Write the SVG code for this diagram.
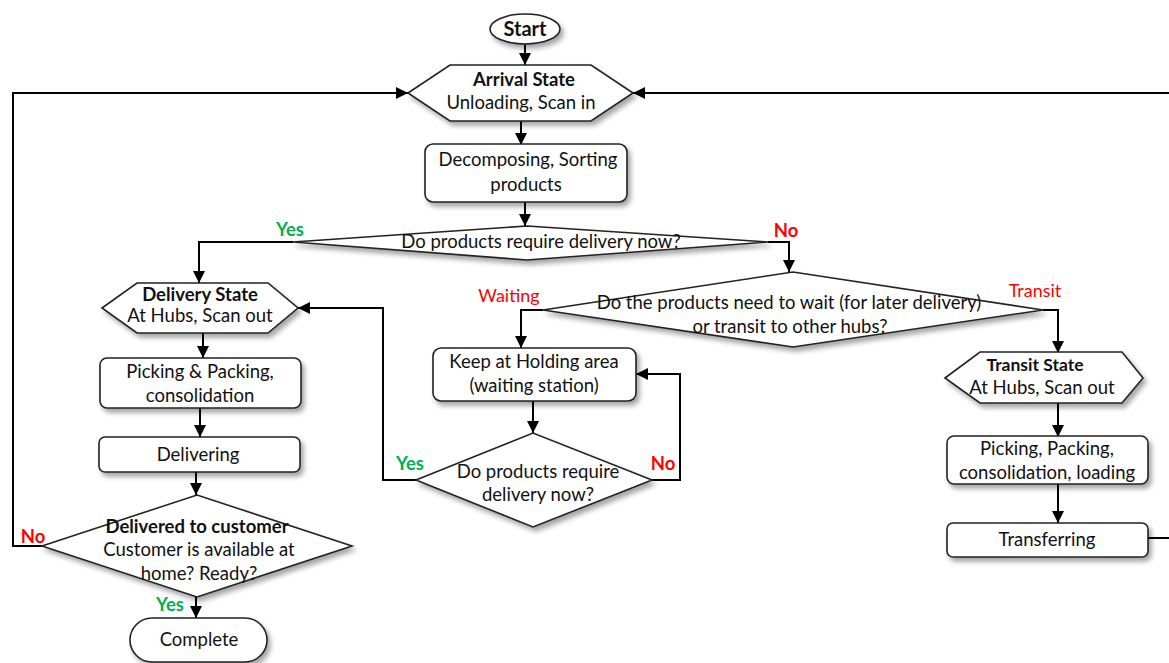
<svg xmlns="http://www.w3.org/2000/svg" width="1169" height="663" viewBox="0 0 1169 663">
<style>
.sh{fill:#fff;stroke:#222;stroke-width:1.6;filter:url(#ds)}
.t{font-family:Lato,"Liberation Sans",sans-serif;font-size:18.5px;fill:#111;text-anchor:middle}
.b{font-weight:bold;font-size:18.5px}
.c{fill:none;stroke:#000;stroke-width:2}
.yes{font-family:Lato,"Liberation Sans",sans-serif;font-size:18.5px;font-weight:bold;fill:#00b050;text-anchor:middle}
.no{font-family:Lato,"Liberation Sans",sans-serif;font-size:18.5px;font-weight:bold;fill:#ff0000;text-anchor:middle}
.lr{font-family:Lato,"Liberation Sans",sans-serif;font-size:18px;fill:#ff0000;text-anchor:middle}
</style>
<defs>
<filter id="ds" x="-10%" y="-20%" width="130%" height="160%">
<feDropShadow dx="3" dy="4" stdDeviation="2.5" flood-color="#000" flood-opacity="0.35"/>
</filter>
<marker id="ah" markerUnits="userSpaceOnUse" markerWidth="14" markerHeight="14" viewBox="0 0 14 14" refX="13" refY="7" orient="auto">
<path d="M1,1 L13,7 L1,13 Z" fill="#000"/>
</marker>
</defs>
<rect width="1169" height="663" fill="#fff"/>

<g id="connectors">
<path class="c" d="M525,44 V65" marker-end="url(#ah)"/>
<path class="c" d="M521,121 V145" marker-end="url(#ah)"/>
<path class="c" d="M525,202 V226" marker-end="url(#ah)"/>
<path class="c" d="M293,242 H199 V283" marker-end="url(#ah)"/>
<path class="c" d="M768,242 H789 V272" marker-end="url(#ah)"/>
<path class="c" d="M543,310 H521 V348" marker-end="url(#ah)"/>
<path class="c" d="M1043,310 H1058 V353" marker-end="url(#ah)"/>
<path class="c" d="M203,333 V358" marker-end="url(#ah)"/>
<path class="c" d="M200,408 V437" marker-end="url(#ah)"/>
<path class="c" d="M196,472 V495" marker-end="url(#ah)"/>
<path class="c" d="M196,597 V618" marker-end="url(#ah)"/>
<path class="c" d="M42,546 H13 V93 H408" marker-end="url(#ah)"/>
<path class="c" d="M533,401 V433" marker-end="url(#ah)"/>
<path class="c" d="M416,480 H383 V308 H298" marker-end="url(#ah)"/>
<path class="c" d="M652,480 H680 V374 H636" marker-end="url(#ah)"/>
<path class="c" d="M1058,403 V437" marker-end="url(#ah)"/>
<path class="c" d="M1058,484 V523" marker-end="url(#ah)"/>
<path class="c" d="M1148,538 H1185 V93 H633" marker-end="url(#ah)"/>
</g>

<g id="start">
<ellipse class="sh" cx="525" cy="29" rx="35" ry="15"/>
<text class="t b" x="525" y="36" style="font-size:20px">Start</text>
</g>

<g id="arrival">
<polygon class="sh" points="408,93 450,65 591,65 633,93 591,121 450,121"/>
<text class="t b" x="524" y="86">Arrival State</text>
<text class="t" x="521" y="109">Unloading, Scan in</text>
</g>

<g id="decomposing">
<rect class="sh" x="425" y="144" width="202" height="58" rx="8"/>
<text class="t" x="528" y="166">Decomposing, Sorting</text>
<text class="t" x="526" y="191">products</text>
</g>

<g id="decision1">
<polygon class="sh" points="293,242 527,226 768,242 527,260"/>
<text class="t" x="541" y="248">Do products require delivery now?</text>
<text class="yes" x="290" y="236">Yes</text>
<text class="no" x="786" y="237">No</text>
</g>

<g id="decision2">
<polygon class="sh" points="543,310 793,272 1043,310 793,347"/>
<text class="t" x="789" y="309">Do the products need to wait (for later delivery)</text>
<text class="t" x="790" y="333">or transit to other hubs?</text>
<text class="lr" x="509" y="302">Waiting</text>
<text class="lr" x="1035" y="297">Transit</text>
</g>

<g id="delivery-state">
<polygon class="sh" points="102,308 137,283 268,283 298,308 268,333 137,333"/>
<text class="t b" x="200" y="301">Delivery State</text>
<text class="t" x="200" y="322">At Hubs, Scan out</text>
</g>

<g id="picking-delivery">
<rect class="sh" x="100" y="358" width="201" height="50" rx="7"/>
<text class="t" x="200" y="378">Picking &amp; Packing,</text>
<text class="t" x="200" y="402">consolidation</text>
</g>

<g id="delivering">
<rect class="sh" x="99" y="437" width="201" height="35" rx="6"/>
<text class="t" x="198" y="461">Delivering</text>
</g>

<g id="delivered">
<polygon class="sh" points="42,546 197,495 352,546 197,597"/>
<text class="t b" x="197" y="533">Delivered to customer</text>
<text class="t" x="199" y="556">Customer is available at</text>
<text class="t" x="199" y="580">home? Ready?</text>
<text class="no" x="33" y="543">No</text>
<text class="yes" x="170" y="611">Yes</text>
</g>

<g id="complete">
<rect class="sh" x="130" y="618" width="137" height="44" rx="22"/>
<text class="t" x="199" y="646">Complete</text>
</g>

<g id="holding">
<rect class="sh" x="433" y="348" width="203" height="53" rx="8"/>
<text class="t" x="534" y="368">Keep at Holding area</text>
<text class="t" x="534" y="392">(waiting station)</text>
</g>

<g id="decision3">
<polygon class="sh" points="416,480 533,433 652,480 533,527"/>
<text class="t" x="538" y="478">Do products require</text>
<text class="t" x="538" y="501">delivery now?</text>
<text class="yes" x="410" y="470">Yes</text>
<text class="no" x="663" y="470">No</text>
</g>

<g id="transit-state">
<polygon class="sh" points="945,378 980,352 1122,352 1143,378 1122,403 980,403"/>
<text class="t b" x="1035" y="371" style="font-size:17.5px">Transit State</text>
<text class="t" x="1042" y="394">At Hubs, Scan out</text>
</g>

<g id="picking-transit">
<rect class="sh" x="947" y="436" width="201" height="48" rx="7"/>
<text class="t" x="1047" y="455">Picking, Packing,</text>
<text class="t" x="1047" y="479">consolidation, loading</text>
</g>

<g id="transferring">
<rect class="sh" x="947" y="523" width="201" height="34" rx="6"/>
<text class="t" x="1047" y="546">Transferring</text>
</g>
</svg>
